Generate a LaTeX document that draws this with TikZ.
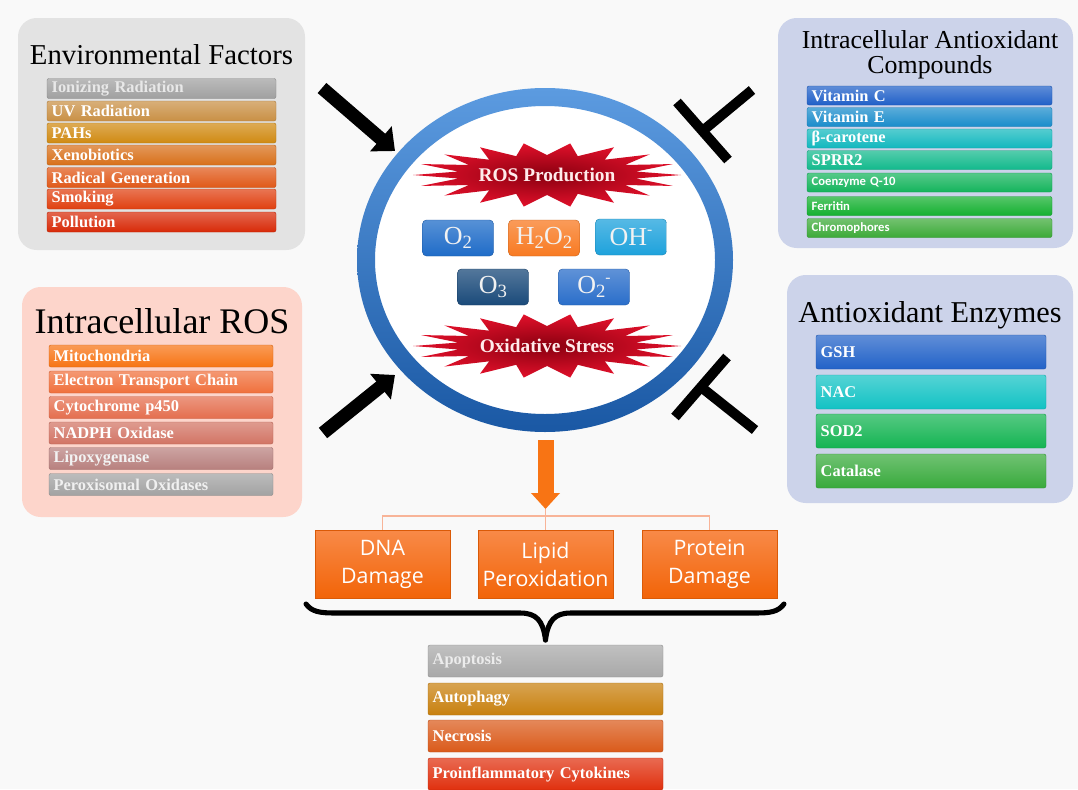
\documentclass[tikz,border=0pt]{standalone}
\usepackage{fontspec}
\setmainfont{Liberation Serif}
\newfontfamily\damfont{Open Sans}
\newfontfamily\calfont{Carlito}
\usetikzlibrary{arrows.meta}
\definecolor{bgc}{HTML}{F9F9F9}
\definecolor{pgrey}{HTML}{E3E3E3}
\definecolor{plav}{HTML}{CCD3EA}
\definecolor{ppink}{HTML}{FDD5CB}
\definecolor{ea}{HTML}{A0A0A0}
\definecolor{eb}{HTML}{C99045}
\definecolor{ec}{HTML}{D08A12}
\definecolor{ed}{HTML}{D8701A}
\definecolor{ee}{HTML}{E05818}
\definecolor{ef}{HTML}{E04010}
\definecolor{eg}{HTML}{D82A08}
\definecolor{ca}{HTML}{2060C8}
\definecolor{cb}{HTML}{1A8CCB}
\definecolor{cc}{HTML}{12B8BE}
\definecolor{cd}{HTML}{12B98C}
\definecolor{ce}{HTML}{14B45C}
\definecolor{cf}{HTML}{14B030}
\definecolor{cg}{HTML}{3CAA38}
\definecolor{ra}{HTML}{F77414}
\definecolor{rb}{HTML}{F0703C}
\definecolor{rc}{HTML}{E46E4E}
\definecolor{rd}{HTML}{D27464}
\definecolor{re}{HTML}{B8807E}
\definecolor{rf}{HTML}{A2A2A2}
\definecolor{za}{HTML}{2262C8}
\definecolor{zb}{HTML}{12C2C4}
\definecolor{zc}{HTML}{14B452}
\definecolor{zd}{HTML}{38AA3C}
\definecolor{oa}{HTML}{A8A8A8}
\definecolor{ob}{HTML}{C8800E}
\definecolor{oc}{HTML}{DA5A1A}
\definecolor{od}{HTML}{E0300E}
\definecolor{dmgtop}{HTML}{F88A48}
\definecolor{dmgbot}{HTML}{F26408}
\definecolor{ma}{HTML}{1F6CC8}
\definecolor{mb}{HTML}{F87A22}
\definecolor{mc}{HTML}{1EA2DC}
\definecolor{md}{HTML}{1A4A7A}
\definecolor{me}{HTML}{2A6ECA}
\definecolor{ringtop}{HTML}{5C9BE0}
\definecolor{ringbot}{HTML}{1A58A4}
\definecolor{burstin}{HTML}{8A0010}
\definecolor{burstout}{HTML}{E0102A}
\definecolor{salmon}{HTML}{F8B498}
\definecolor{orarrow}{HTML}{F87414}
\newcommand\barfont{\fontsize{12.3}{14}\selectfont\bfseries}
\newcommand\molfont{\fontsize{19.5}{22}\selectfont}
\newcommand\dmgfont{\damfont\fontsize{16}{21}\selectfont}
\newcommand\burstfont{\fontsize{14.5}{17}\selectfont\bfseries}
\newcommand\cmpsans{\calfont\fontsize{9.5}{11}\selectfont\bfseries}
\newcommand\sbs[1]{\raisebox{-0.35ex}{\scalebox{0.72}{#1}}}
\newcommand\sps[1]{\raisebox{0.95ex}{\scalebox{0.6}{#1}}}
\tikzset{
  panel/.style={rounded corners=14pt, draw=none},
  listbar/.style={rounded corners=1.5pt, inner xsep=3.5pt, inner ysep=0pt, align=left, text=white, font=\barfont, top color=#1!72!white, bottom color=#1, draw=#1!85!black, line width=0.3pt},
  envbar/.style={listbar=#1, text width=164.75pt, minimum height=15pt},
  cmpbar/.style={listbar=#1, text width=176.75pt, minimum height=14.25pt},
  rosbar/.style={listbar=#1, text width=161pt, minimum height=16.5pt},
  enzbar/.style={listbar=#1, text width=165.5pt, minimum height=25.5pt},
  outbar/.style={listbar=#1, text width=169.25pt, minimum height=24pt},
  title/.style={anchor=base, text=black, inner sep=0pt},
  mol/.style={rounded corners=3pt, minimum width=53.25pt, minimum height=27pt, inner sep=0pt, text=white!90!gray, font=\molfont, top color=#1!75!white, bottom color=#1, draw=#1!80!black, line width=0.3pt},
  dmg/.style={minimum width=101.25pt, minimum height=51pt, inner sep=0pt, align=center, text=white, font=\dmgfont, top color=dmgtop, bottom color=dmgbot, draw=dmgbot!90!black, line width=0.3pt},
  fatarrow/.style={line width=10pt, color=black, -{Triangle[width=24pt,length=14pt]}},
  tbar/.style={line width=7.5pt, color=black},
  burst/.style={inner color=burstin, outer color=burstout},
  bursttext/.style={font=\burstfont, text=white!92!red, inner sep=0pt},
  splitline/.style={draw=salmon, line width=0.8pt},
}
\begin{document}
\begin{tikzpicture}[x=0.75pt,y=-0.75pt]
\clip (0,0) rectangle (1078,789);
\fill[bgc] (0,0) rectangle (1078,789);
% panels
\node[panel, fill=pgrey, minimum width=215.25pt, minimum height=174pt] (envpanel) at (161.5,134) {};
\node[panel, fill=ppink, minimum width=210pt, minimum height=172.5pt] (rospanel) at (162,402) {};
\node[panel, fill=plav, minimum width=221.25pt, minimum height=172.5pt] (cmppanel) at (925.5,133) {};
\node[panel, fill=plav, minimum width=214.5pt, minimum height=171pt] (enzpanel) at (930,389) {};
% titles
\node[title, font=\fontsize{21.6}{24}\selectfont] (envtitle) at (161.5,64) {Environmental Factors};
\node[title, font=\fontsize{27}{30}\selectfont] (rostitle) at (162,333) {Intracellular ROS};
\node[title, font=\fontsize{19.4}{20}\selectfont] (cmptitlea) at (930,48) {Intracellular Antioxidant};
\node[title, font=\fontsize{19.4}{20}\selectfont] (cmptitleb) at (930,73) {Compounds};
\node[title, font=\fontsize{22.7}{25}\selectfont] (enztitle) at (930,322) {Antioxidant Enzymes};
% environmental bars
\node[envbar=ea, text=white!82!gray] (e1) at (161.5,88.5) {Ionizing Radiation};
\node[envbar=eb] (e2) at (161.5,111) {UV Radiation};
\node[envbar=ec] (e3) at (161.5,133) {PAHs};
\node[envbar=ed] (e4) at (161.5,155) {Xenobiotics};
\node[envbar=ee] (e5) at (161.5,177.5) {Radical Generation};
\node[envbar=ef] (e6) at (161.5,199) {Smoking};
\node[envbar=eg] (e7) at (161.5,222) {Pollution};
% compound bars
\node[cmpbar=ca] (c1) at (929.5,95.5) {Vitamin C};
\node[cmpbar=cb] (c2) at (929.5,117) {Vitamin E};
\node[cmpbar=cc] (c3) at (929.5,138.5) {β-carotene};
\node[cmpbar=cd] (c4) at (929.5,160) {SPRR2};
\node[cmpbar=ce, font=\cmpsans] (c5) at (929.5,182.5) {Coenzyme Q-10};
\node[cmpbar=cf, font=\cmpsans] (c6) at (929.5,206) {Ferritin};
\node[cmpbar=cg, font=\cmpsans] (c7) at (929.5,228) {Chromophores};
% ROS bars
\node[rosbar=ra] (r1) at (161,356) {Mitochondria};
\node[rosbar=rb] (r2) at (161,382) {Electron Transport Chain};
\node[rosbar=rc] (r3) at (161,407.5) {Cytochrome p450};
\node[rosbar=rd] (r4) at (161,433) {NADPH Oxidase};
\node[rosbar=re, text=white!90!gray] (r5) at (161,458.5) {Lipoxygenase};
\node[rosbar=rf, text=white!88!gray] (r6) at (161,484.5) {Peroxisomal Oxidases};
% enzyme bars
\node[enzbar=za] (z1) at (931,352) {GSH};
\node[enzbar=zb] (z2) at (931,392) {NAC};
\node[enzbar=zc] (z3) at (931,431) {SOD2};
\node[enzbar=zd] (z4) at (931,471) {Catalase};
% central ring
\coordinate (cc) at (545,260);
\fill[white] (cc) ellipse [x radius=128pt, y radius=116pt];
\path[even odd rule, top color=ringtop, bottom color=ringbot] (cc) ellipse [x radius=141pt, y radius=129pt] (cc) ellipse [x radius=127.5pt, y radius=115.5pt];
% bursts
\path[burst] plot[variable=\t, samples at={0,1,...,35}] ({547+(112+22*cos(\t*180))*cos(\t*10)}, {175+(26+6*cos(\t*180))*sin(\t*10)}) -- cycle;
\node[bursttext] (rosprod) at (547,175) {ROS Production};
\path[burst] plot[variable=\t, samples at={0,1,...,35}] ({547+(112+22*cos(\t*180))*cos(\t*10)}, {346+(26+6*cos(\t*180))*sin(\t*10)}) -- cycle;
\node[bursttext] (oxstress) at (547,346) {Oxidative Stress};
% molecules
\node[mol=ma] (m1) at (458,238) {O\sbs{2}};
\node[mol=mb] (m2) at (544,238) {H\sbs{2}O\sbs{2}};
\node[mol=mc] (m3) at (631,237) {OH\sps{-}};
\node[mol=md] (m4) at (493,287) {O\sbs{3}};
\node[mol=me] (m5) at (594,287) {O\sbs{2}\sps{-}};
% black arrows
\coordinate (a1s) at (322,88);
\coordinate (a1e) at (395,151);
\coordinate (a2s) at (323,433);
\coordinate (a2e) at (395,375);
\draw[fatarrow] (a1s) -- (a1e);
\draw[fatarrow] (a2s) -- (a2e);
% inhibition bars
\coordinate (t1a) at (677,102);
\coordinate (t1b) at (728,160);
\coordinate (t1m) at (702.5,131);
\coordinate (t1s) at (752,90);
\coordinate (t2a) at (675,417);
\coordinate (t2b) at (727,357);
\coordinate (t2m) at (701,387);
\coordinate (t2s) at (755,430);
\draw[tbar] (t1a) -- (t1b);
\draw[tbar] (t1m) -- (t1s);
\draw[tbar] (t2a) -- (t2b);
\draw[tbar] (t2m) -- (t2s);
% damage boxes
\node[dmg] (dna) at (382.5,564) {DNA\\Damage};
\node[dmg] (lip) at (545.5,564) {Lipid\\Peroxidation};
\node[dmg] (prot) at (709.5,564) {Protein\\Damage};
% orange arrow and split lines
\coordinate (oas) at (545.5,440);
\coordinate (oae) at (545.5,509);
\coordinate (split) at (545.5,516);
\draw[splitline] (dna.north) |- (split) -| (prot.north);
\draw[splitline] (oae) -- (lip.north);
\draw[line width=12pt, color=orarrow, -{Triangle[width=21pt,length=12pt]}] (oas) -- (oae);
% brace
\coordinate (bl) at (306,604);
\coordinate (br) at (784,604);
\coordinate (bc) at (545.5,640);
\draw[line width=3.8pt, line cap=round] (bl) .. controls (312,612) and (320,613) .. (336,613) -- (520,613) .. controls (536,613) and (543,620) .. (bc);
\draw[line width=3.8pt, line cap=round] (br) .. controls (778,612) and (770,613) .. (755,613) -- (571,613) .. controls (555,613) and (548,620) .. (bc);
% outcome bars
\node[outbar=oa, text=white!85!gray] (o1) at (545.5,661) {Apoptosis};
\node[outbar=ob] (o2) at (545.5,699) {Autophagy};
\node[outbar=oc] (o3) at (545.5,736) {Necrosis};
\node[outbar=od] (o4) at (545.5,774) {Proinflammatory Cytokines};
\end{tikzpicture}
\end{document}
